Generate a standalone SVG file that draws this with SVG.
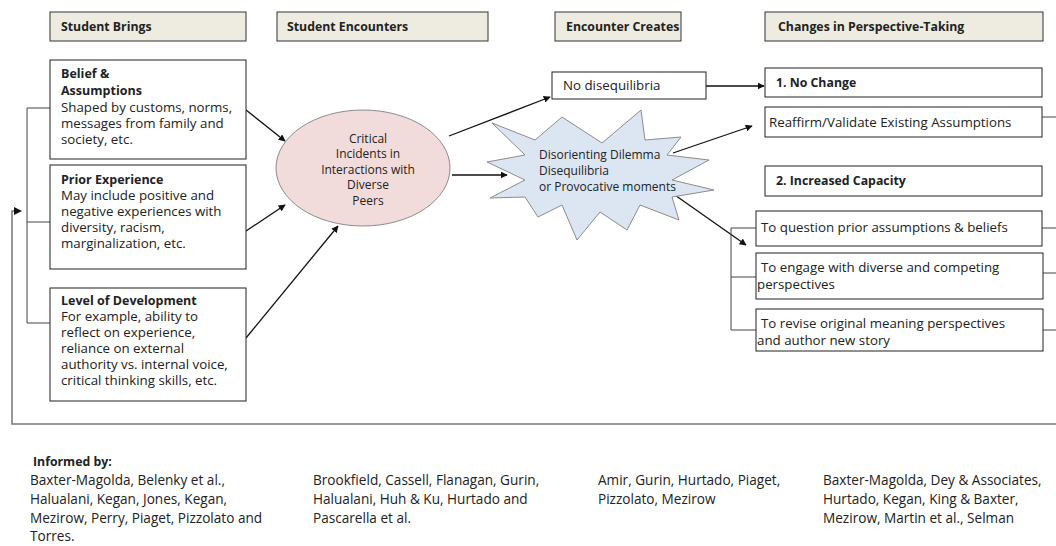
<svg xmlns="http://www.w3.org/2000/svg" width="1056" height="546" viewBox="0 0 1056 546">
<defs>
<marker id="ah" viewBox="0 0 10 10" refX="9" refY="5" markerWidth="7" markerHeight="7" markerUnits="userSpaceOnUse" orient="auto"><path d="M0,0 L10,5 L0,10 z" fill="#111"/></marker>
<style>
.hdr{fill:#eeece1;stroke:#333;stroke-width:1}
.box{fill:#fff;stroke:#222;stroke-width:1}
text{font-family:"Open Sans","Liberation Sans",sans-serif;fill:#222}
.b{font-weight:bold;font-size:12.3px}
.t{font-size:13.3px}
.r{font-size:13.6px}
.s{font-size:12px}
.c{font-size:12px;text-anchor:middle}
.ar{stroke:#111;stroke-width:1.3;fill:none;marker-end:url(#ah)}
.ln{stroke:#444;stroke-width:1;fill:none}
.fb{stroke:#777;stroke-width:1.5;fill:none}
</style>
</defs>
<rect width="1056" height="546" fill="#fff"/>

<g id="hdr-brings"><rect class="hdr" x="50" y="12" width="196" height="29"/><text class="b" x="61" y="31">Student Brings</text></g>
<g id="hdr-encounters"><rect class="hdr" x="277" y="12" width="211" height="29"/><text class="b" x="287" y="31">Student Encounters</text></g>
<g id="hdr-creates"><rect class="hdr" x="555" y="12" width="126" height="29"/><text class="b" x="566" y="31">Encounter Creates</text></g>
<g id="hdr-changes"><rect class="hdr" x="765" y="12" width="278" height="29"/><text class="b" x="778" y="31">Changes in Perspective-Taking</text></g>

<g id="connectors">
<path class="ln" d="M50,108 H27 V323 H50 M27,222 H50"/>
<path class="fb" d="M1056,424 H12 V211 H14"/>
<path d="M14,207 L22,211 L14,215 z" fill="#111"/>
<line class="ar" x1="246" y1="110" x2="285" y2="141"/>
<line class="ar" x1="246" y1="231" x2="285" y2="205"/>
<line class="ar" x1="246" y1="338" x2="338" y2="226"/>
<line class="ar" x1="449" y1="136" x2="550" y2="97"/>
<line class="ar" x1="452" y1="175" x2="507" y2="175"/>
<line class="ar" x1="706" y1="86" x2="764" y2="86"/>
<line class="ar" x1="673" y1="153" x2="752" y2="126"/>
<line class="ar" x1="672" y1="193" x2="746" y2="245"/>
<path class="ln" d="M756,228 H731 V330 H756 M731,277 H756"/>
<path class="ln" d="M1042,117 H1056 M1042,228 H1056 M1043,273 H1056 M1043,330 H1056"/>
</g>

<g id="belief"><rect class="box" x="50" y="60" width="196" height="99"/>
<text class="b" x="61" y="78" style="font-size:12.5px">Belief &amp;</text>
<text class="b" x="61" y="95" style="font-size:12.5px">Assumptions</text>
<text class="t" x="61" y="112">Shaped by customs, norms,</text>
<text class="t" x="61" y="128">messages from family and</text>
<text class="t" x="61" y="144">society, etc.</text></g>

<g id="prior"><rect class="box" x="50" y="165" width="196" height="104"/>
<text class="b" x="61" y="184" style="font-size:12.5px">Prior Experience</text>
<text class="t" x="61" y="200">May include positive and</text>
<text class="t" x="61" y="216">negative experiences with</text>
<text class="t" x="61" y="232">diversity, racism,</text>
<text class="t" x="61" y="248">marginalization, etc.</text></g>

<g id="level"><rect class="box" x="50" y="288" width="196" height="113"/>
<text class="b" x="61" y="305" style="font-size:12.5px">Level of Development</text>
<text class="t" x="61" y="321">For example, ability to</text>
<text class="t" x="61" y="337">reflect on experience,</text>
<text class="t" x="61" y="353">reliance on external</text>
<text class="t" x="61" y="369">authority vs. internal voice,</text>
<text class="t" x="61" y="385">critical thinking skills, etc.</text></g>

<g id="incidents"><ellipse cx="363" cy="168" rx="87" ry="58" fill="#f2dcdb" stroke="#8c8c8c" stroke-width="1"/>
<text class="c" x="368" y="143">Critical</text>
<text class="c" x="368" y="158">Incidents in</text>
<text class="c" x="368" y="174">Interactions with</text>
<text class="c" x="368" y="189">Diverse</text>
<text class="c" x="368" y="205">Peers</text></g>

<g id="nodiseq"><rect class="box" x="552" y="72" width="154" height="27"/><text class="t" x="563" y="90">No disequilibria</text></g>

<g id="dilemma"><path d="M492,123 L535,140 L562,117 L602,143 L641,110 L645,140 L681,137 L667,155 L709,160 L672,180 L714,190 L672,197 L679,220 L640,205 L627,230 L600,212 L577,240 L562,205 L538,217 L525,197 L490,198 L525,180 L487,162 L525,155 Z" fill="#dce6f2" stroke="#8c8c8c" stroke-width="1"/>
<text class="s" x="539" y="159">Disorienting Dilemma</text>
<text class="s" x="539" y="175">Disequilibria</text>
<text class="s" x="539" y="191">or Provocative moments</text></g>

<g id="nochange"><rect class="box" x="765" y="68" width="277" height="29"/><text class="b" x="776" y="87">1. No Change</text></g>
<g id="reaffirm"><rect class="box" x="765" y="107" width="277" height="30"/><text class="t" x="769" y="127">Reaffirm/Validate Existing Assumptions</text></g>
<g id="capacity"><rect class="box" x="765" y="166" width="277" height="30"/><text class="b" x="776" y="185">2. Increased Capacity</text></g>
<g id="question"><rect class="box" x="756" y="211" width="286" height="35"/><text class="t" x="761" y="232">To question prior assumptions &amp; beliefs</text></g>
<g id="engage"><rect class="box" x="756" y="253" width="287" height="46"/><text class="t" x="761" y="272">To engage with diverse and competing</text><text class="t" x="757" y="289">perspectives</text></g>
<g id="revise"><rect class="box" x="756" y="309" width="287" height="42"/><text class="t" x="761" y="328">To revise original meaning perspectives</text><text class="t" x="757" y="345">and author new story</text></g>

<g id="informed">
<text class="b" x="33" y="466">Informed by:</text>
<text class="r" x="30" y="485">Baxter-Magolda, Belenky et al.,</text>
<text class="r" x="30" y="504">Halualani, Kegan, Jones, Kegan,</text>
<text class="r" x="30" y="523">Mezirow, Perry,  Piaget, Pizzolato and</text>
<text class="r" x="30" y="541">Torres.</text>
<text class="r" x="313" y="485">Brookfield, Cassell, Flanagan, Gurin,</text>
<text class="r" x="313" y="504">Halualani, Huh &amp; Ku, Hurtado and</text>
<text class="r" x="313" y="523">Pascarella et al.</text>
<text class="r" x="598" y="485">Amir, Gurin, Hurtado, Piaget,</text>
<text class="r" x="598" y="504">Pizzolato, Mezirow</text>
<text class="r" x="823" y="485">Baxter-Magolda, Dey &amp; Associates,</text>
<text class="r" x="823" y="504">Hurtado, Kegan, King &amp; Baxter,</text>
<text class="r" x="823" y="523">Mezirow, Martin et al., Selman</text>
</g>
</svg>
